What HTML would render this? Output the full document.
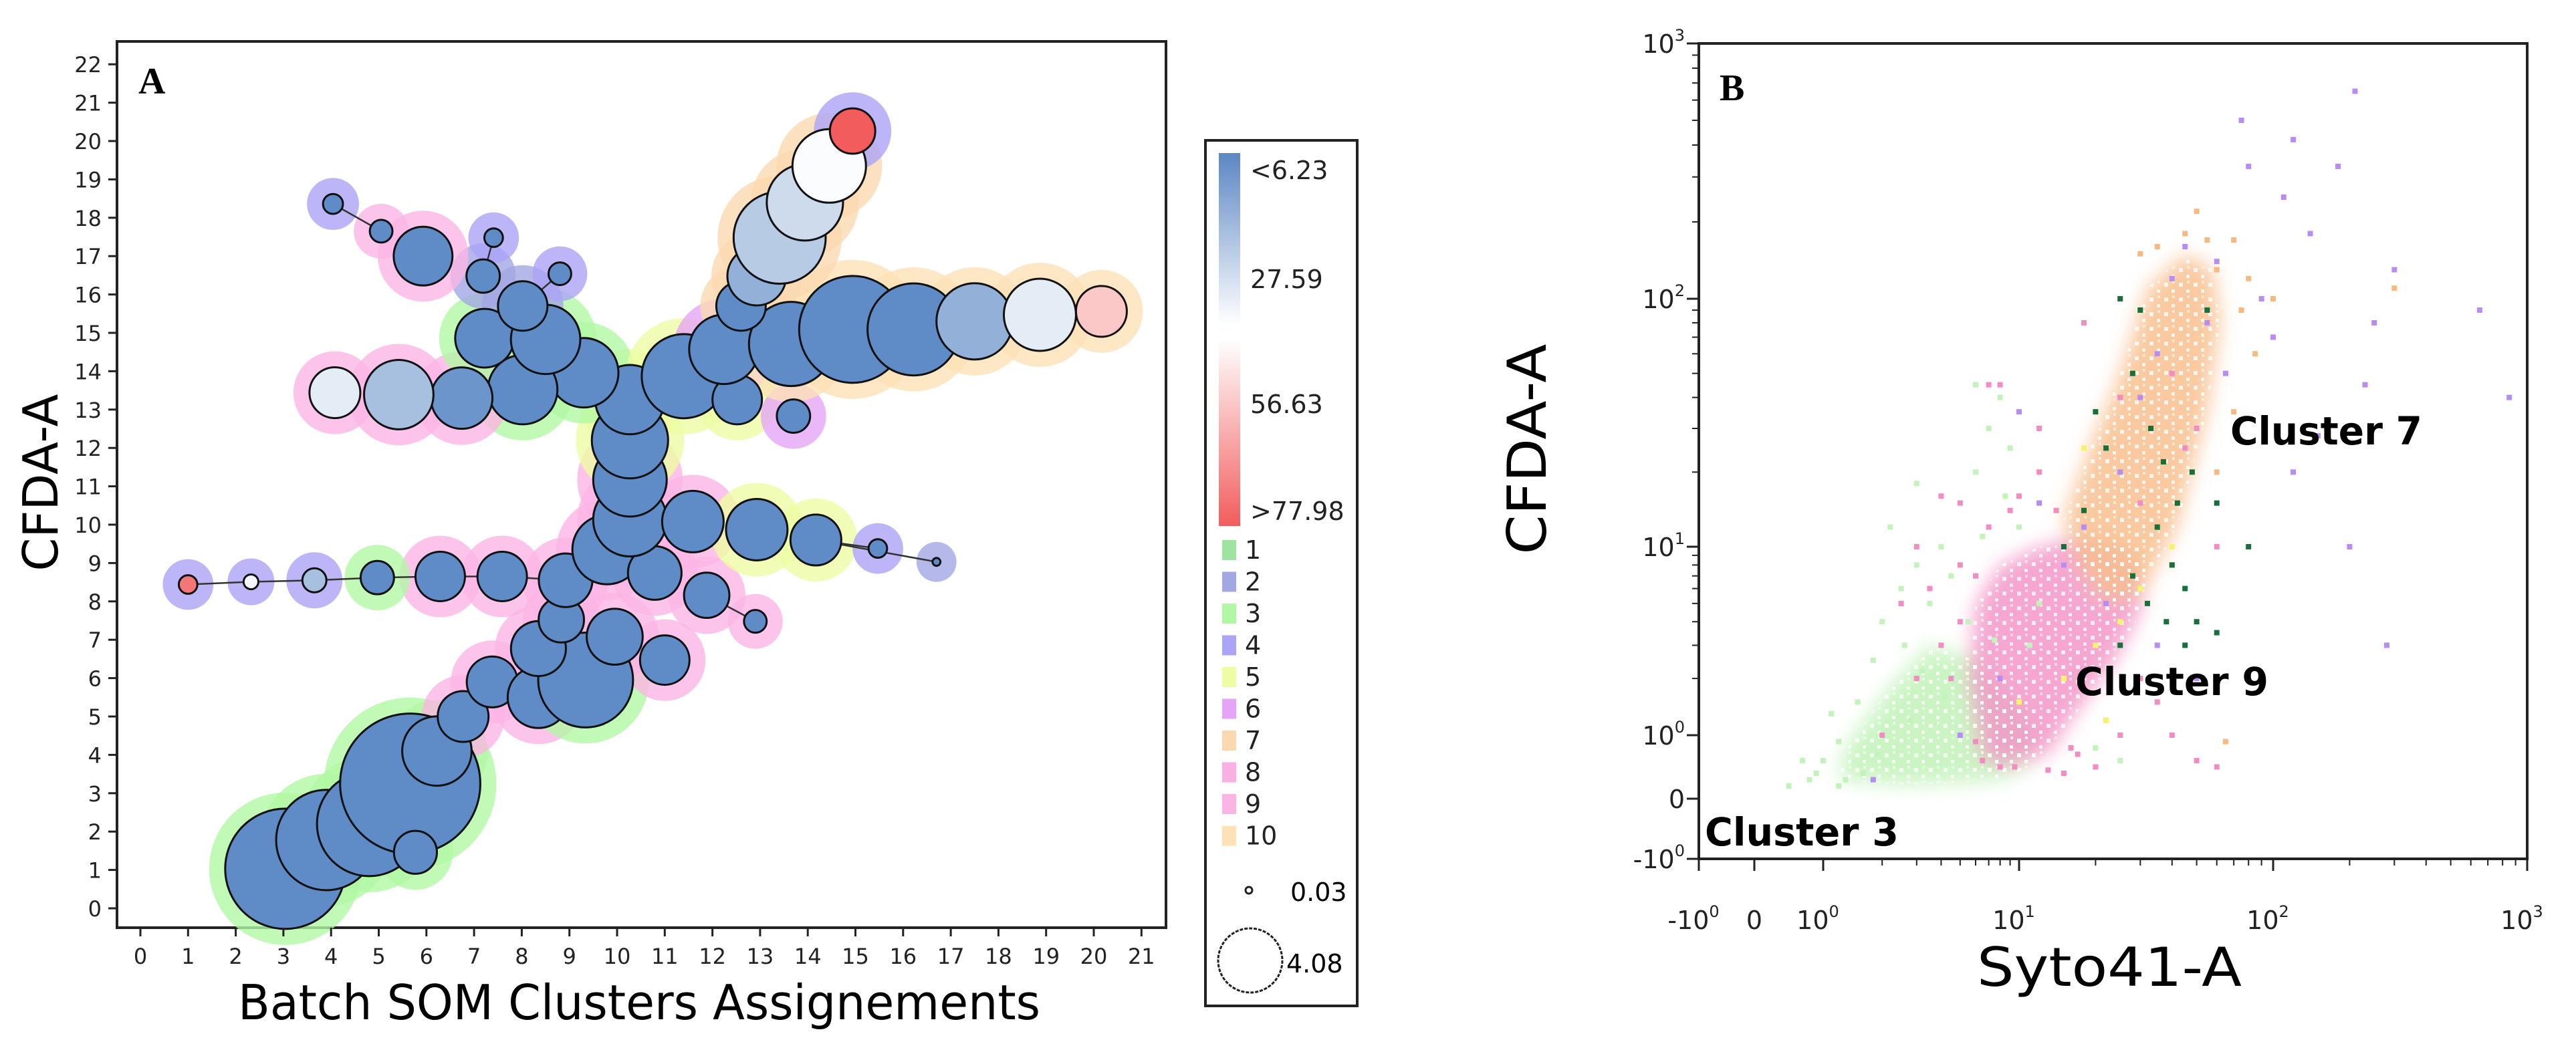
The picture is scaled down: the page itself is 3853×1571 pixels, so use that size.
<!DOCTYPE html>
<html><head><meta charset="utf-8"><style>
html,body{margin:0;padding:0;background:#fff;}
svg{display:block;}
text{font-family:"DejaVu Sans","Liberation Sans",sans-serif;}
</style></head><body>
<svg id="fig" width="3853" height="1571" viewBox="0 0 3853 1571" xmlns="http://www.w3.org/2000/svg">
<defs>
<filter id="blur" x="-20%" y="-20%" width="140%" height="140%"><feGaussianBlur stdDeviation="14"/></filter>
<linearGradient id="cbar" x1="0" y1="0" x2="0" y2="1">
<stop offset="0" stop-color="#5b86c4"/><stop offset="0.46" stop-color="#ffffff"/><stop offset="0.5" stop-color="#ffffff"/><stop offset="1" stop-color="#f25c5c"/>
</linearGradient>
<pattern id="speck" width="22" height="22" patternUnits="userSpaceOnUse">
<rect x="3" y="5" width="6" height="6" fill="#fff"/><rect x="14" y="15" width="5" height="5" fill="#fff"/><rect x="15" y="2" width="4" height="4" fill="#fff" opacity="0.7"/>
</pattern>
</defs>
<g id="panelA">
<rect x="175" y="62" width="1569" height="1326" fill="#fff" stroke="#222" stroke-width="4"/>
<g id="halos"></g><g id="edges"></g><g id="bubbles"></g><g id="axA"></g>
<text x="207" y="140" font-weight="bold" font-size="56" style="font-family:'Liberation Serif',serif">A</text>
<text x="356" y="1525" font-size="72" textLength="1200" lengthAdjust="spacingAndGlyphs">Batch SOM Clusters Assignements</text>
<text transform="translate(86,722) rotate(-90)" text-anchor="middle" font-size="72" textLength="265" lengthAdjust="spacingAndGlyphs">CFDA-A</text>
</g>
<g id="legend">
<rect x="1803" y="210" width="227" height="1295" fill="#fff" stroke="#222" stroke-width="4"/>
<rect x="1823" y="229" width="32" height="558" fill="url(#cbar)"/>
<g font-size="38" fill="#222">
<text x="1870" y="268">&lt;6.23</text>
<text x="1870" y="431">27.59</text>
<text x="1870" y="618">56.63</text>
<text x="1870" y="778">&gt;77.98</text>
</g>
<g id="legItems"></g>
<circle cx="1868" cy="1332" r="5" fill="#fff" stroke="#222" stroke-width="3"/>
<text x="1930" y="1348" font-size="38">0.03</text>
<circle cx="1870" cy="1437" r="48" fill="#fff" stroke="#222" stroke-width="3" stroke-dasharray="5 2"/>
<text x="1924" y="1455" font-size="38">4.08</text>
</g>
<g id="panelB">
<g id="blobs" filter="url(#blur)"></g><g id="speckles"></g><g id="dots"></g>
<rect x="2541" y="65" width="1239" height="1220" fill="none" stroke="#222" stroke-width="4"/>
<g id="axB"></g>
<text x="2572" y="150" font-weight="bold" font-size="56" style="font-family:'Liberation Serif',serif">B</text>
<text x="3336" y="665" font-size="58" font-weight="bold" textLength="287" lengthAdjust="spacingAndGlyphs">Cluster 7</text>
<text x="3104" y="1040" font-size="58" font-weight="bold" textLength="289" lengthAdjust="spacingAndGlyphs">Cluster 9</text>
<text x="2550" y="1265" font-size="58" font-weight="bold" textLength="290" lengthAdjust="spacingAndGlyphs">Cluster 3</text>
<text x="3155" y="1475" text-anchor="middle" font-size="80" textLength="396" lengthAdjust="spacingAndGlyphs">Syto41-A</text>
<text transform="translate(2312,672) rotate(-90)" text-anchor="middle" font-size="80" textLength="315" lengthAdjust="spacingAndGlyphs">CFDA-A</text>
</g>
</svg>
<script>
// ===== Panel A data =====
const nodeX = [3.04,3.9,4.8,5.66,5.77,6.22,6.77,7.38,8.35,9.34,8.35,9.95,11.0,8.83,8.92,9.79,10.79,11.88,12.9,10.27,10.27,10.27,10.27,11.59,12.93,14.17,15.47,16.7,7.59,6.29,4.97,3.65,2.32,1.0,9.3,8.02,6.74,5.42,4.08,7.22,8.5,8.02,7.19,7.41,8.8,5.93,5.05,4.04,11.4,12.52,13.7,12.24,13.65,14.94,16.22,17.5,18.87,20.16,12.6,12.93,13.41,13.94,14.45,14.94];
const nodeY = [1.03,1.78,2.2,3.25,1.46,4.1,5.0,5.9,5.5,5.95,6.77,7.08,6.47,7.52,8.55,9.35,8.74,8.16,7.48,10.13,11.17,12.2,13.26,10.08,9.87,9.6,9.38,9.03,8.65,8.65,8.62,8.55,8.51,8.44,13.96,13.52,13.3,13.39,13.44,14.86,14.83,15.7,16.48,17.48,16.54,17.0,17.65,18.36,13.87,13.26,12.83,14.57,14.71,15.09,15.09,15.3,15.47,15.56,15.7,16.48,17.48,18.4,19.35,20.26];
const nodeSize = [3.5,2.92,3.04,4.08,1.25,2.02,1.48,1.48,1.79,2.76,1.6,1.63,1.44,1.32,1.56,2.02,1.56,1.32,0.66,2.14,2.14,2.22,2.02,1.79,1.79,1.48,0.54,0.23,1.44,1.44,0.97,0.7,0.43,0.54,2.02,2.02,1.79,2.02,1.48,1.71,2.02,1.44,0.97,0.54,0.66,1.71,0.66,0.58,2.45,1.44,0.97,2.02,2.45,3.11,2.68,2.22,2.1,1.48,1.44,1.71,2.68,2.22,2.14,1.32];
const nodeValue = [6,6,6,6,6,6,6,6,6,6,6,6,6,6,6,6,6,6,6,6,6,6,6,6,6,6,6,6,6,6,6,16,26,70,6,6,8,16,24,6,6,6,6,6,6,6,6,6,6,6,6,6,6,6,6,13,24,45,6,13,18,21,27,78];
const nodeCluster = [3,3,3,3,3,3,9,9,9,3,9,9,9,9,9,9,9,9,9,9,9,5,5,9,5,5,4,2,9,9,3,4,4,4,3,3,9,9,9,3,3,2,2,4,4,9,9,4,5,5,6,6,10,10,10,10,10,10,7,7,7,7,7,4];
const edgeFrom = [33,32,31,30,29,28,26,25,47,43,44,18];
const edgeTo   = [32,31,30,29,28,14,25,27,46,42,41,17];
const xTicksA = [0,1,2,3,4,5,6,7,8,9,10,11,12,13,14,15,16,17,18,19,20,21];
const yTicksA = [0,1,2,3,4,5,6,7,8,9,10,11,12,13,14,15,16,17,18,19,20,21,22];
const clusterColors = ["#9fe3a3","#a2a8e4","#b1f7a4","#aba4f7","#eefca4","#e5a5f7","#fbd9b0","#f9b1e4","#fbb5e5","#fde1b7"];
const legendLabels = ["1","2","3","4","5","6","7","8","9","10"];
// ===== Panel B data =====
const greenX=[0.5,0.8,1,1.2,1.5,1.8,2,2.5,3,4,5,6,7,8,6,9,10,12,15,20,25,3,2.2,1.2,0.7,1.6,2.6,3.5,4.5,6.5,8.5,11,1.3,2.8,5.5,1.1,1.9,3.2,4.2,7.5,0.9];
const greenY=[0.2,0.3,0.6,0.9,1.5,2.5,4,6,8,10,15,20,30,40,45,25,12,5,2,0.8,0.6,18,12,0.2,0.6,0.4,3,5,7,11,16,3,0.3,1.2,4,1.3,0.7,2.2,1.6,3.2,0.4];
const pinkX=[7,8,4,5,3,2.5,3.5,5,6,4,3,2,12,18,25,40,50,45,60,30,40,50,60,20,15,8,6,35,25,30,12,9,7,10,14,5,4.5,22,16,6.5,9.5,13,17];
const pinkY=[45,45,16,15,10,5,6,8,7,3,2,1,30,80,40,50,30,25,10,2,1,0.6,0.5,0.5,0.4,0.5,0.9,1.5,1,15,20,14,12,16,14,4,2,1.2,0.8,0.6,0.5,0.45,0.7];
const orangeX=[30,45,70,50,60,25,80,65,100,300,70,60,40,35,55,75,85];
const orangeY=[150,180,170,220,130,100,120,0.9,100,110,35,20,8,160,170,90,60];
const purpleX=[210,75,120,80,180,250,650,850,300,230,150,200,280,120,45,60,90,100,40,55,35,30,65,25,18,15,22,12,10,35,50,8,5,1.8,110,140];
const purpleY=[650,500,420,330,330,80,90,40,130,45,28,10,3,20,160,140,100,70,120,80,60,40,50,20,12,8,5,15,35,3,2,2,1,0.3,250,180];
const dgreenX=[25,30,55,28,20,22,18,15,35,40,45,50,38,32,28,42,48,60,80,60,25,45,33,37];
const dgreenY=[100,90,90,50,35,25,14,10,12,8,6,4,4,5,7,15,20,15,10,3.5,3,3,30,22];
const yellowX=[15,20,25,30,12,40,10,18,22];
const yellowY=[2,3,4,6,15,10,1.5,25,1.2];
// dense population outlines (value space)
const greenBlobX=[1.2,2.5,5,8,11,12,9,6,3.5,2.2,1.3];
const greenBlobY=[0.3,0.22,0.25,0.3,0.5,1.0,1.6,2.5,3.0,1.8,0.8];
const pinkBlobX=[6.5,9,13,18,24,30,32,26,18,12,8,6,5.5];
const pinkBlobY=[0.6,0.5,0.7,1.5,2.5,4.5,7,10,11,10,8,5,2];
const orangeBlobX=[17,22,30,42,55,62,58,45,32,25,19,15];
const orangeBlobY=[8,5,5.5,12,35,80,130,150,110,50,25,13];
const xTicksB=[-1,0,1,10,100,1000];
const yTicksB=[-1,0,1,10,100,1000];
const tickTextB=["-10","0","10","10","10","10"];
const tickSupB=["0","","0","1","2","3"];

const NS="http://www.w3.org/2000/svg";
function mk(tag,attrs,parent){const e=document.createElementNS(NS,tag);for(const k in attrs)e.setAttribute(k,attrs[k]);parent.appendChild(e);return e;}
const xA=v=>210+71.3*v, yA=v=>1359-57.4*v, rA=s=>25.7*s;
function hex(c){return [parseInt(c.slice(1,3),16),parseInt(c.slice(3,5),16),parseInt(c.slice(5,7),16)];}
function mix(a,b,t){const A=hex(a),B=hex(b);return "rgb("+A.map((v,i)=>Math.round(v+(B[i]-v)*t)).join(",")+")";}
function colorOf(v){if(v<=6.23)return "#5f8bc6";if(v<=27.59)return mix("#5f8bc6","#ffffff",(v-6.23)/21.36);return mix("#ffffff","#f25c5c",Math.min(1,(v-27.59)/50.39));}
const gH=document.getElementById("halos"),gE=document.getElementById("edges"),gB=document.getElementById("bubbles"),gA=document.getElementById("axA");
for(let i=0;i<nodeX.length;i++){
  const h=mk("circle",{cx:xA(nodeX[i]),cy:yA(nodeY[i]),r:rA(nodeSize[i])+24,fill:clusterColors[nodeCluster[i]-1],opacity:0.8},gH);
  
  
}
for(let i=0;i<edgeFrom.length;i++){
  const a=edgeFrom[i],b=edgeTo[i];
  const l=mk("line",{x1:xA(nodeX[a]),y1:yA(nodeY[a]),x2:xA(nodeX[b]),y2:yA(nodeY[b]),stroke:"#333",'stroke-width':2.5},gE);
  
  
}
for(let i=0;i<nodeX.length;i++){
  const c=mk("circle",{cx:xA(nodeX[i]),cy:yA(nodeY[i]),r:rA(nodeSize[i]),fill:colorOf(nodeValue[i]),stroke:"#111",'stroke-width':3},gB);
  
  
}
xTicksA.forEach(t=>{
  const l=mk("line",{x1:xA(t),x2:xA(t),y1:1388,y2:1401,stroke:"#222",'stroke-width':3},gA);
  
  
  const tx=mk("text",{x:xA(t),y:1442,'text-anchor':'middle','font-size':32,fill:"#222"},gA);tx.textContent=t;
  
  
});
yTicksA.forEach(t=>{
  const l=mk("line",{x1:162,x2:175,y1:yA(t),y2:yA(t),stroke:"#222",'stroke-width':3},gA);
  
  
  const tx=mk("text",{x:152,y:yA(t)+12,'text-anchor':'end','font-size':32,fill:"#222"},gA);tx.textContent=t;
  
  
});
const gL=document.getElementById("legItems");
legendLabels.forEach((lab,i)=>{
  const y=812+i*47.5;
  const r=mk("rect",{x:1828,y:y-4,width:21,height:30,fill:clusterColors[i]},gL);
  
  
  const t=mk("text",{x:1862,y:y+24,'font-size':38,fill:"#222"},gL);t.textContent=lab;
  
  
});
function xB(v){if(v<=0)return 2624+v*83;if(v<1)return 2624+v*103;const u=Math.log10(v);if(u<=1)return 2727+u*293;return 3020+(u-1)*380;}
function yB(v){if(v<=0)return 1195-v*90;if(v<1)return 1195-v*95;const u=Math.log10(v);if(u<=1)return 1100-u*282;if(u<=2)return 818-(u-1)*371;return 447-(u-2)*382;}
const gBl=document.getElementById("blobs"),gS=document.getElementById("speckles"),gD=document.getElementById("dots"),gX=document.getElementById("axB");
function blob(xs,ys,col,name,op){
  const p=xs.map((x,i)=>xB(x)+","+yB(ys[i])).join(" ");
  const e=mk("polygon",{points:p,fill:col,opacity:op},gBl);
  
  
  const s=mk("polygon",{points:p,fill:"url(#speck)",opacity:0.8},gS);
  
  
}
blob(greenBlobX,greenBlobY,"#c4f4bc","cluster-3-density",0.9);
blob(pinkBlobX,pinkBlobY,"#f597c8","cluster-9-density",0.85);
blob(orangeBlobX,orangeBlobY,"#f9c08e","cluster-7-density",0.85);
function dots(xs,ys,col,name){
  xs.forEach((x,i)=>{
    const d=mk("rect",{x:xB(x)-4,y:yB(ys[i])-4,width:8,height:8,fill:col},gD);
    
    
  });
}
dots(greenX,greenY,"#c2f3ba","event-cluster-3");
dots(pinkX,pinkY,"#f48cc4","event-cluster-9");
dots(orangeX,orangeY,"#f7b97f","event-cluster-7");
dots(yellowX,yellowY,"#f5f56a","event-cluster-5");
dots(purpleX,purpleY,"#b88cf5","event-cluster-4");
dots(dgreenX,dgreenY,"#15703a","event-cluster-1");
xTicksB.forEach((t,i)=>{
  const l=mk("line",{x1:xB(t),x2:xB(t),y1:1285,y2:1303,stroke:"#222",'stroke-width':3},gX);
  
  
  const tx=mk("text",{x:xB(t)+(tickSupB[i]?-8:0),y:1390,'text-anchor':'middle','font-size':38,fill:"#222"},gX);
  tx.textContent=tickTextB[i];
  if(tickSupB[i]){const s=mk("tspan",{dy:-18,'font-size':24},tx);s.textContent=tickSupB[i];}
  
  
});
yTicksB.forEach((t,i)=>{
  const l=mk("line",{x1:2523,x2:2541,y1:yB(t),y2:yB(t),stroke:"#222",'stroke-width':3},gX);
  
  
  const tx=mk("text",{x:2520,y:yB(t)+14,'text-anchor':'end','font-size':38,fill:"#222"},gX);
  tx.textContent=tickTextB[i];
  if(tickSupB[i]){const s=mk("tspan",{dy:-18,'font-size':24},tx);s.textContent=tickSupB[i];}
  
  
});
[1,10,100].forEach(d=>{for(let k=2;k<10;k++){
  const v=d*k;
  const a=mk("line",{x1:xB(v),x2:xB(v),y1:1285,y2:1295,stroke:"#222",'stroke-width':2},gX);
  
  
  const b=mk("line",{x1:2531,x2:2541,y1:yB(v),y2:yB(v),stroke:"#222",'stroke-width':2},gX);
  
  
}});
</script>
</body></html>
